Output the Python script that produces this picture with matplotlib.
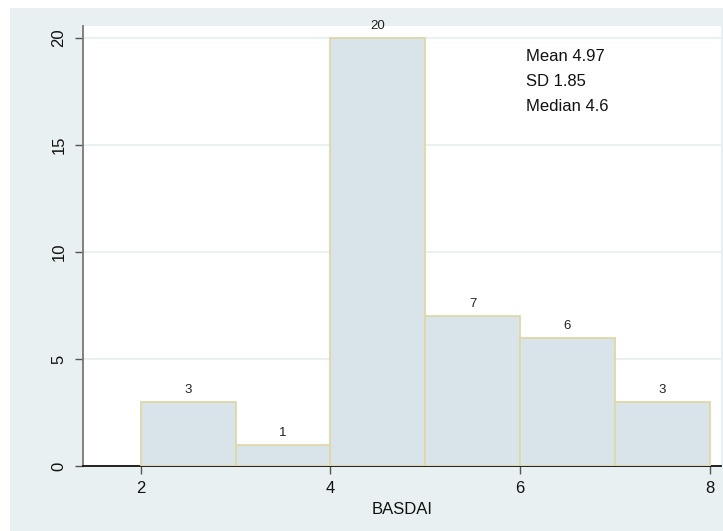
import matplotlib
matplotlib.use("Agg")
import matplotlib.pyplot as plt
from matplotlib.patches import Rectangle

# Histogram of BASDAI scores (bin width 1)
bin_edges = [2, 3, 4, 5, 6, 7, 8]
counts = [3, 1, 20, 7, 6, 3]
x_ticks = [2, 4, 6, 8]
y_ticks = [0, 5, 10, 15, 20]
stats_lines = ["Mean 4.97", "SD 1.85", "Median 4.6"]

BG = "#E8F0F2"
FILL = "#D8E4EA"
EDGE = "#E0D7A6"

plt.rcParams["font.family"] = ["Liberation Sans", "DejaVu Sans"]

fig = plt.figure(figsize=(7.23, 5.31), dpi=100)
fig.patch.set_facecolor("white")
# graph region panel, drawn beneath the axes
fig.add_artist(Rectangle((10 / 723, 0), 1 - 10 / 723, 1 - 8 / 531,
                         transform=fig.transFigure, facecolor=BG,
                         edgecolor="none", zorder=-10))

ax = fig.add_axes([83 / 723, 1 - 466 / 531, (721 - 83) / 723, (466 - 26) / 531])
ax.set_facecolor("white")

widths = [b - a for a, b in zip(bin_edges[:-1], bin_edges[1:])]
ax.bar(bin_edges[:-1], counts, width=widths, align="edge",
       color=FILL, edgecolor=EDGE, linewidth=1.3, zorder=3)

for left, w, c in zip(bin_edges[:-1], widths, counts):
    ax.text(left + w / 2, c + 0.28, str(c), ha="center", va="bottom",
            fontsize=9.5, color="#222222", zorder=4, clip_on=False)

ax.set_xlim(1.39, 8.12)
ax.set_ylim(0, 20.56)
ax.set_xticks(x_ticks)
ax.set_yticks(y_ticks)
ax.set_yticklabels([str(t) for t in y_ticks], rotation=90, va="center")
ax.tick_params(axis="both", labelsize=12, colors="#111111", length=6, width=1)
ax.tick_params(axis="y", color="#555555", pad=6)
ax.tick_params(axis="x", color="#555555", pad=5)

ax.grid(axis="y", color=BG, linewidth=1.3, zorder=1)
ax.set_axisbelow(True)

for side in ("top", "right"):
    ax.spines[side].set_visible(False)
ax.spines["left"].set_color("#777777")
ax.spines["left"].set_linewidth(1.3)
ax.spines["bottom"].set_color("#111111")
ax.spines["bottom"].set_linewidth(1.3)

ax.set_xlabel("BASDAI", fontsize=12, color="#111111", labelpad=4)

for i, line in enumerate(stats_lines):
    ax.text(0.694, 0.930 - i * 0.057, line, transform=ax.transAxes,
            fontsize=12, color="#111111", ha="left", va="center")

fig.savefig("out.png", dpi=100)
